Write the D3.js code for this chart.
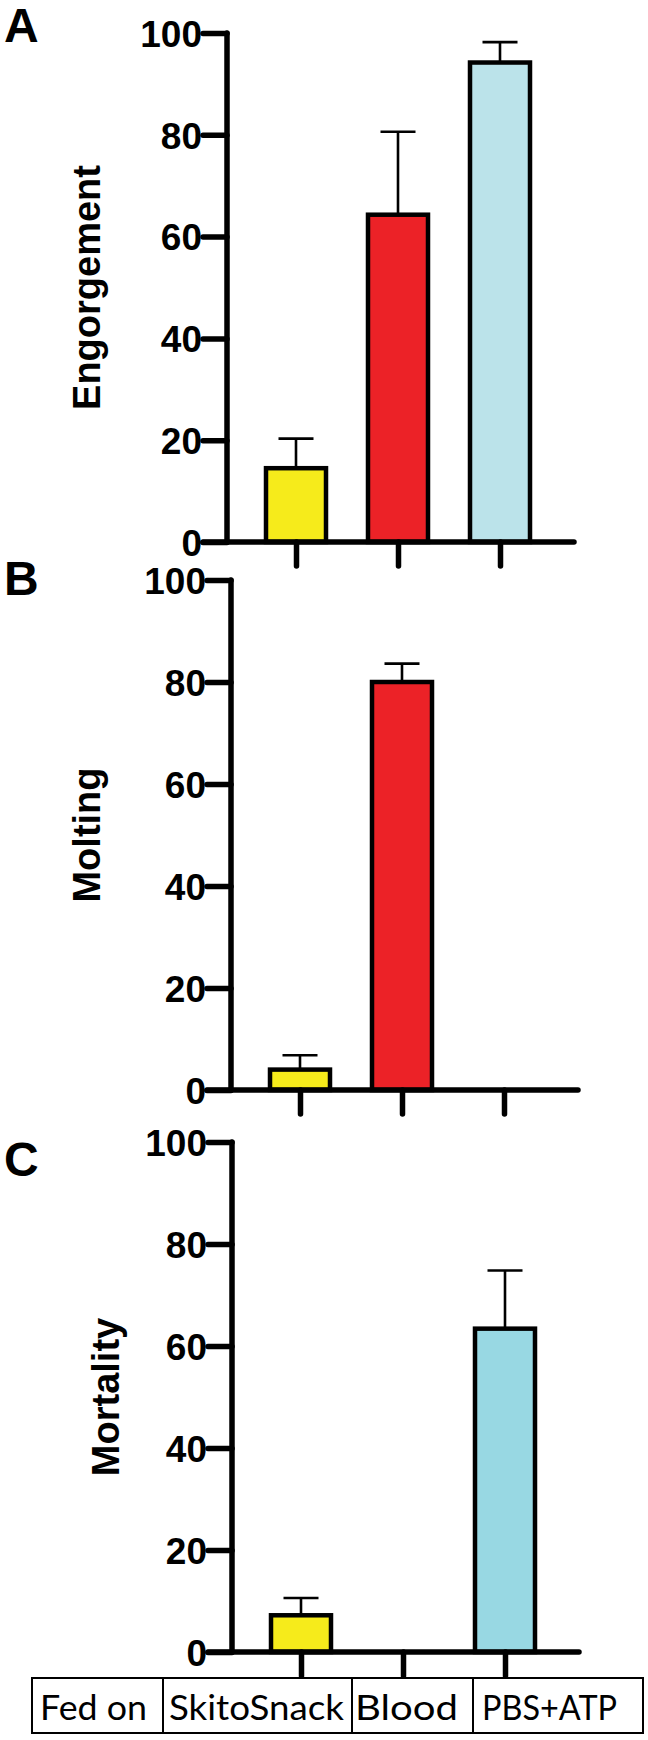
<!DOCTYPE html>
<html><head><meta charset="utf-8">
<script src="https://cdn.jsdelivr.net/npm/d3@7"></script>
<style>body{margin:0;background:#fff}svg{display:block}</style>
</head><body>
<svg id="chart" width="648" height="1740"></svg>
<script>
const categories = ["SkitoSnack", "Blood", "PBS+ATP"];
const engorgement = [14.5, 64.3, 94.2];
const engorgementSem = [5.8, 16.3, 4.0];
const molting = [4.0, 80.0, 0];
const moltingSem = [2.8, 3.6, 0];
const mortality = [7.2, 0, 63.4];
const mortalitySem = [3.4, 0, 11.4];
const yTicks = [0, 20, 40, 60, 80, 100];
const tableLabels = ["Fed on", "SkitoSnack", "Blood", "PBS+ATP"];

const panels = [
  {letter: "A", title: "Engorgement", values: engorgement, sem: engorgementSem,
   colors: ["#f6eb1b", "#ec2227", "#bbe3ea"], axisX: 227, yTop: 33, y0: 542, letterY: 42, titleX: 100},
  {letter: "B", title: "Molting", values: molting, sem: moltingSem,
   colors: ["#f6eb1b", "#ec2227", "#bbe3ea"], axisX: 231, yTop: 580, y0: 1090, letterY: 595, titleX: 100},
  {letter: "C", title: "Mortality", values: mortality, sem: mortalitySem,
   colors: ["#f6eb1b", "#ec2227", "#98d8e3"], axisX: 232, yTop: 1142, y0: 1652, letterY: 1176, titleX: 119}
];

const svg = d3.select("#chart");
const FONT = "'Liberation Sans', Arial, sans-serif";

panels.forEach(p => {
  const g = svg.append("g");
  const y = d3.scaleLinear().domain([0, 100]).range([p.y0, p.yTop]);
  const x = d3.scalePoint().domain(categories).range([p.axisX + 69, p.axisX + 273]);
  const barW = 60;

  // bars
  g.selectAll("rect.bar").data(p.values).join("rect")
    .attr("x", (d, i) => x(categories[i]) - barW / 2)
    .attr("y", d => y(d))
    .attr("width", barW)
    .attr("height", d => Math.max(0, p.y0 - y(d)))
    .attr("fill", (d, i) => p.colors[i])
    .attr("stroke", "#000")
    .attr("stroke-width", d => d > 0 ? 4.5 : 0);

  // error bars
  p.values.forEach((v, i) => {
    if (p.sem[i] <= 0) return;
    const cx = x(categories[i]);
    g.append("line").attr("x1", cx).attr("x2", cx).attr("y1", y(v)).attr("y2", y(v + p.sem[i]))
      .attr("stroke", "#000").attr("stroke-width", 2.6);
    g.append("line").attr("x1", cx - 17.5).attr("x2", cx + 17.5).attr("y1", y(v + p.sem[i])).attr("y2", y(v + p.sem[i]))
      .attr("stroke", "#000").attr("stroke-width", 2.6);
  });

  // y axis
  const ya = g.append("g").attr("transform", `translate(${p.axisX},0)`)
    .call(d3.axisLeft(y).tickValues(yTicks).tickSize(24).tickPadding(1).tickFormat(d3.format("d")));
  ya.select(".domain").remove();
  ya.selectAll(".tick line").attr("stroke", "#000").attr("stroke-width", 5.5).attr("stroke-linecap", "round");
  ya.selectAll(".tick text").attr("fill", "#000").style("font-family", FONT).style("font-weight", "bold")
    .style("font-size", "37px").attr("dy", "0.36em");
  g.append("line").attr("x1", p.axisX).attr("x2", p.axisX).attr("y1", p.yTop).attr("y2", p.y0)
    .attr("stroke", "#000").attr("stroke-width", 5.5).attr("stroke-linecap", "round");

  // x axis
  const xa = g.append("g").attr("transform", `translate(0,${p.y0})`)
    .call(d3.axisBottom(x).tickSize(24).tickFormat(""));
  xa.select(".domain").remove();
  xa.selectAll(".tick line").attr("stroke", "#000").attr("stroke-width", 5.5).attr("stroke-linecap", "round");
  g.append("line").attr("x1", p.axisX - 24).attr("x2", p.axisX + 347).attr("y1", p.y0).attr("y2", p.y0)
    .attr("stroke", "#000").attr("stroke-width", 5.5).attr("stroke-linecap", "round");

  // titles
  g.append("text").attr("transform", `translate(${p.titleX},${(p.yTop + p.y0) / 2}) rotate(-90)`)
    .attr("text-anchor", "middle").style("font-family", FONT).style("font-weight", "bold")
    .style("font-size", "38px").text(p.title);
  g.append("text").attr("x", 4).attr("y", p.letterY).style("font-family", FONT).style("font-weight", "bold")
    .style("font-size", "48px").text(p.letter);
});

// table
const cellEdges = [32, 163, 352, 473, 643];
const tg = svg.append("g");
tg.append("rect").attr("x", 32).attr("y", 1678).attr("width", 643 - 32).attr("height", 55)
  .attr("fill", "none").attr("stroke", "#000").attr("stroke-width", 2);
cellEdges.slice(1, -1).forEach(e => tg.append("line").attr("x1", e).attr("x2", e).attr("y1", 1678).attr("y2", 1733)
  .attr("stroke", "#000").attr("stroke-width", 2));
const textStarts = [40, 169, 355, 482];
const textWidths = [107, 175, 103, 135];
tableLabels.forEach((t, i) => tg.append("text").attr("x", textStarts[i]).attr("y", 1720)
  .attr("textLength", textWidths[i]).attr("lengthAdjust", "spacingAndGlyphs")
  .style("font-family", "Lato, 'Open Sans', sans-serif").style("font-size", "35px").text(t));
</script>
</body></html>
